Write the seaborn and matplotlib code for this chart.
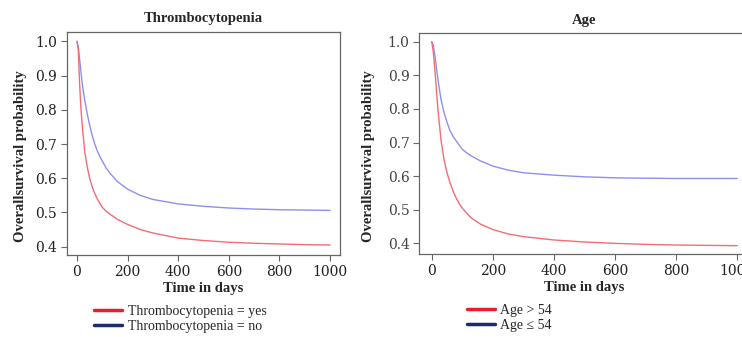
import numpy as np
import pandas as pd
import seaborn as sns
import matplotlib.pyplot as plt
from matplotlib.lines import Line2D

# survival curves
days = [0, 5, 10, 15, 20, 30, 40, 50, 60, 70, 80, 90, 100, 115, 130, 160, 200, 250,
        300, 400, 500, 600, 700, 800, 900, 1000]
thrombo_yes = [1.0, 0.975, 0.88, 0.81, 0.76, 0.68, 0.635, 0.6, 0.575, 0.556, 0.54,
               0.527, 0.515, 0.504, 0.495, 0.48, 0.465, 0.45, 0.44, 0.425, 0.418,
               0.413, 0.41, 0.408, 0.406, 0.405]
thrombo_no = [1.0, 0.985, 0.95, 0.915, 0.88, 0.83, 0.79, 0.755, 0.725, 0.7, 0.68,
              0.664, 0.65, 0.63, 0.615, 0.59, 0.568, 0.55, 0.538, 0.525, 0.518,
              0.513, 0.51, 0.508, 0.507, 0.506]
age_old = [1.0, 0.97, 0.92, 0.86, 0.8, 0.71, 0.65, 0.61, 0.58, 0.555, 0.535, 0.518,
           0.505, 0.489, 0.475, 0.457, 0.441, 0.428, 0.42, 0.41, 0.404, 0.4, 0.397,
           0.395, 0.394, 0.393]
age_young = [1.0, 0.99, 0.96, 0.925, 0.89, 0.83, 0.79, 0.76, 0.735, 0.718, 0.705,
             0.692, 0.68, 0.669, 0.66, 0.645, 0.63, 0.618, 0.61, 0.603, 0.598,
             0.595, 0.594, 0.593, 0.593, 0.593]

panels = [
    ("Thrombocytopenia", thrombo_yes, thrombo_no,
     ["Thrombocytopenia = yes", "Thrombocytopenia = no"]),
    ("Age", age_old, age_young, ["Age > 54", "Age \u2264 54"]),
]

sns.set_theme(style="ticks")
plt.rcParams['font.family'] = ['Liberation Serif', 'DejaVu Serif']
plt.rcParams['axes.edgecolor'] = '#666666'
plt.rcParams['xtick.color'] = '#666666'
plt.rcParams['ytick.color'] = '#666666'
plt.rcParams['xtick.labelcolor'] = '#222222'
plt.rcParams['ytick.labelcolor'] = '#222222'

fig = plt.figure(figsize=(7.42, 3.37), dpi=100)
ax1 = fig.add_axes([0.0903, 0.2433, 0.368, 0.662])
ax2 = fig.add_axes([0.565, 0.246, 0.445, 0.655])

curve_red = '#f26d74'
curve_blue = '#8f8ff2'
leg_red = '#ee1c2b'
leg_blue = '#1d2a6c'

for ax, (title, s_red, s_blue, labels), xl in zip(
        [ax1, ax2], panels, [(-39.5, 1039.5), (-41, 1040)]):
    df = pd.DataFrame({"day": days, "red": s_red, "blue": s_blue})
    sns.lineplot(data=df, x="day", y="blue", color=curve_blue, lw=1, ax=ax)
    sns.lineplot(data=df, x="day", y="red", color=curve_red, lw=1, ax=ax)
    ax.set_xlim(*xl)
    ax.set_xticks([0, 200, 400, 600, 800, 1000])
    ax.set_yticks([0.4, 0.5, 0.6, 0.7, 0.8, 0.9, 1.0])
    ax.set_yticklabels([f"{v:.1f}" for v in [0.4, 0.5, 0.6, 0.7, 0.8, 0.9, 1.0]])
    ax.tick_params(length=4, width=0.8, pad=3)
    for lab in ax.get_xticklabels() + ax.get_yticklabels():
        lab.set_fontfamily('DejaVu Serif')
        lab.set_fontsize(10)
    for sp in ax.spines.values():
        sp.set_linewidth(0.9)
    ax.set_title(title, fontsize=10.5, fontweight='bold', pad=7)
    ax.set_xlabel("Time in days", fontsize=10.5, fontweight='bold', labelpad=2)
    ax.set_ylabel("Overallsurvival probability", fontsize=10.5, fontweight='bold',
                  labelpad=6)
    ax.yaxis.set_label_coords(-0.148 if ax is ax1 else -0.133, 0.445)
    handles = [Line2D([], [], color=leg_red, lw=2.5),
               Line2D([], [], color=leg_blue, lw=2.5)]
    ax.legend(handles, labels, loc='upper left', bbox_to_anchor=(0.08, -0.2),
              frameon=False, fontsize=10, handlelength=2.0, handletextpad=0.4,
              labelspacing=0.15, borderaxespad=0)

ax1.set_ylim(0.3757, 1.0275)
ax2.set_ylim(0.368, 1.025)
ax2.legend_.set_bbox_to_anchor((0.128, -0.2))
ax2.yaxis.set_tick_params(labelcolor='#444444')

fig.savefig("out.png", dpi=100)
